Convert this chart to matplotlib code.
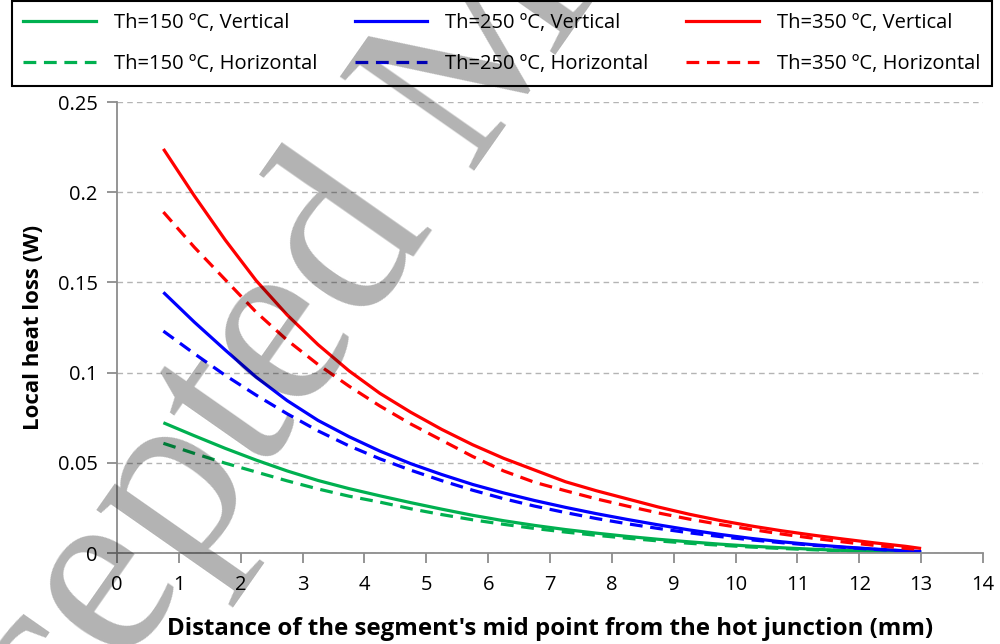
import numpy as np
import matplotlib.pyplot as plt
from matplotlib.lines import Line2D
from matplotlib.ticker import FuncFormatter

plt.rcParams['font.family'] = ['Open Sans', 'DejaVu Sans']

# segment mid points (mm)
dist = [0.75, 1.25, 1.75, 2.25, 2.75, 3.25, 3.75, 4.25, 4.75, 5.25, 5.75, 6.25, 6.75,
        7.25, 7.75, 8.25, 8.75, 9.25, 9.75, 10.25, 10.75, 11.25, 11.75, 12.25, 12.75, 13.0]

# local heat loss (W)
v150 = [0.0722, 0.065, 0.058, 0.0515, 0.0455, 0.0402, 0.0357, 0.0317, 0.0279, 0.0243,
        0.0209, 0.0179, 0.0153, 0.013, 0.011, 0.0092, 0.0076, 0.0062, 0.0049, 0.0038,
        0.0029, 0.0021, 0.0014, 0.0009, 0.0005, 0.0003]
h150 = [0.0608, 0.0552, 0.0498, 0.0449, 0.040, 0.0355, 0.0315, 0.0282, 0.0245, 0.0213,
        0.0184, 0.0159, 0.0136, 0.0116, 0.0098, 0.0082, 0.0067, 0.0054, 0.0043, 0.0033,
        0.0025, 0.0018, 0.0012, 0.0007, 0.0004, 0.0002]
v250 = [0.1445, 0.128, 0.1125, 0.0975, 0.0845, 0.0735, 0.0645, 0.0565, 0.0495, 0.0435,
        0.038, 0.0333, 0.0291, 0.0253, 0.0218, 0.0186, 0.0156, 0.0128, 0.0103, 0.0081,
        0.0062, 0.0046, 0.0033, 0.0022, 0.0012, 0.0008]
h250 = [0.123, 0.1105, 0.0985, 0.0875, 0.0772, 0.0677, 0.0594, 0.0522, 0.0459, 0.0401,
        0.0348, 0.0301, 0.026, 0.0224, 0.0191, 0.0162, 0.0136, 0.0112, 0.0091, 0.0073,
        0.0057, 0.0043, 0.0031, 0.002, 0.0011, 0.0007]
v350 = [0.224, 0.198, 0.1735, 0.151, 0.132, 0.1155, 0.101, 0.0885, 0.078, 0.0685,
        0.060, 0.0525, 0.046, 0.0395, 0.0345, 0.030, 0.0255, 0.0215, 0.018, 0.015,
        0.0123, 0.0099, 0.0077, 0.0056, 0.0037, 0.0025]
h350 = [0.189, 0.1695, 0.1515, 0.1335, 0.118, 0.1045, 0.0925, 0.0815, 0.0715, 0.0625,
        0.0535, 0.0455, 0.0392, 0.0345, 0.030, 0.026, 0.0222, 0.0188, 0.0158, 0.0131,
        0.0105, 0.0082, 0.0061, 0.0042, 0.0026, 0.0019]

temps = [150, 250, 350]
colors = ['#00b050', '#0000ff', '#ff0000']
vertical = [v150, v250, v350]
horizontal = [h150, h250, h350]

fig = plt.figure(figsize=(10, 6.44), dpi=100)
ax = fig.add_axes([0.117, 0.1413, 0.866, 0.7003])

lw = 2.3
dash = (4, 2.4)
handles = []
for t, c, v, h in zip(temps, colors, vertical, horizontal):
    ax.plot(dist, v, color=c, lw=lw, solid_capstyle='butt', solid_joinstyle='round')
    ax.plot(dist, h, color=c, lw=lw, dashes=dash, dash_capstyle='butt')
    handles.append(Line2D([], [], color=c, lw=lw, label='Th=%d ºC, Vertical' % t))
    handles.append(Line2D([], [], color=c, lw=lw, dashes=dash,
                          label='Th=%d ºC, Horizontal' % t))

ax.set_xlim(0, 14)
ax.set_ylim(0, 0.25)
ax.set_xticks(np.arange(0, 15, 1))
ax.set_yticks([0, 0.05, 0.1, 0.15, 0.2, 0.25])
ax.yaxis.set_major_formatter(FuncFormatter(lambda v, p: '%g' % v))

ax.grid(axis='y', color='#b4b4b4', lw=1, dashes=(4, 3))
ax.set_axisbelow(True)
for s in ['top', 'right']:
    ax.spines[s].set_visible(False)
for s in ['left', 'bottom']:
    ax.spines[s].set_color('#8c8c8c')
    ax.spines[s].set_linewidth(1.3)
ax.tick_params(axis='both', colors='#8c8c8c', width=1.3, length=7,
               labelcolor='black', labelsize=14.5)
ax.tick_params(axis='x', pad=9)
ax.tick_params(axis='y', pad=7)

ax.set_xlabel("Distance of the segment's mid point from the hot junction (mm)",
              fontsize=17.3, fontweight='bold', labelpad=16)
ax.set_ylabel('Local heat loss (W)', fontsize=16, fontweight='bold', labelpad=10)

leg = fig.legend(handles=handles, ncol=3, loc='upper left',
                 bbox_to_anchor=(0.0115, 1 - 7.5 / 644, 0.9805, 0.01),
                 mode='expand', fontsize=14.5, handlelength=3.6, handletextpad=0.9,
                 labelspacing=1.05, borderpad=0.58, borderaxespad=0,
                 fancybox=False, edgecolor='black', framealpha=1)
leg.get_frame().set_linewidth(1.5)

# watermark across the figure
fig.text(0.509, 0.811, 'Accepted Manuscript', family='Liberation Serif', fontsize=180,
         color='black', alpha=0.3, rotation=55, rotation_mode='anchor',
         ha='center', va='baseline', zorder=10)

fig.savefig('out.png', dpi=100)
